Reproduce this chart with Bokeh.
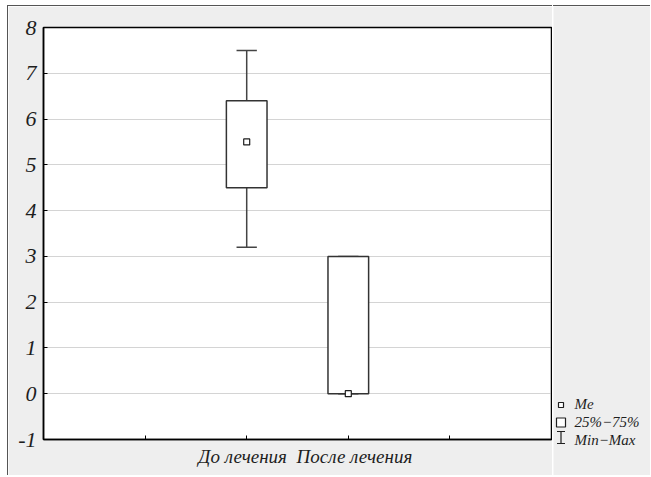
from bokeh.plotting import figure
from bokeh.models import Range1d, FixedTicker, LinearAxis
from bokeh.embed import file_html
from bokeh.resources import INLINE
from bokeh.core.properties import value

# ---- data ----
categories = ["До лечения", "После лечения"]
medians = [5.5, 0.0]
q1 = [4.5, 0.0]
q3 = [6.4, 3.0]
mins = [3.2, 0.0]
maxs = [7.5, 3.0]
y_ticks = [-1, 0, 1, 2, 3, 4, 5, 6, 7, 8]
x_ticks = [1, 2, 3, 4]
legend_labels = ["Me", "25%−75%", "Min−Max"]

FONT = "Liberation Serif"
BG = "#eeeeee"
INK = "#1e1e1e"
EDGE = "1px solid #555555"

xs = [i + 2 for i in range(len(categories))]
box_w = 0.4
cap_w = 0.2

H = 470
p = figure(width=545, height=H, x_range=Range1d(0, 5), y_range=Range1d(-1, 8),
           toolbar_location=None, output_backend="svg",
           min_border_left=35, min_border_right=2, min_border_top=21, min_border_bottom=H - 21 - 412,
           styles={"margin-top": "5px", "margin-left": "7px", "border-top": EDGE, "border-left": EDGE})
p.background_fill_color = "white"
p.border_fill_color = BG
p.outline_line_color = "black"
p.outline_line_width = 1.5

# whiskers
p.segment(x0=xs, y0=q3, x1=xs, y1=maxs, line_color="#444444", line_width=1.5)
p.segment(x0=xs, y0=q1, x1=xs, y1=mins, line_color="#444444", line_width=1.5)
p.segment(x0=[x - cap_w / 2 for x in xs], y0=maxs, x1=[x + cap_w / 2 for x in xs], y1=maxs,
          line_color="#444444", line_width=1.5)
p.segment(x0=[x - cap_w / 2 for x in xs], y0=mins, x1=[x + cap_w / 2 for x in xs], y1=mins,
          line_color="#444444", line_width=1.5)
# boxes
p.vbar(x=xs, width=box_w, top=q3, bottom=q1, fill_color="white", line_color="#333333", line_width=1.5)
# medians
p.scatter(x=xs, y=medians, marker="square", size=6, fill_color="white", line_color=INK, line_width=1.2)

# axes
xa = p.xaxis[0]
ya = p.yaxis[0]
xa.ticker = FixedTicker(ticks=x_ticks)
xa.major_label_overrides = {t: "" for t in x_ticks}
xa.major_label_text_font_size = "1px"
xa.major_label_standoff = 0
ya.ticker = FixedTicker(ticks=y_ticks)
ya.major_label_overrides = {-1: "-1"}
for ax in (xa, ya):
    ax.minor_tick_line_color = None
    ax.major_tick_in = 4
    ax.major_tick_out = 0
    ax.major_tick_line_color = "black"
    ax.axis_line_color = "black"
    ax.axis_line_width = 1.5
ya.major_label_text_font = FONT
ya.major_label_text_font_style = "italic"
ya.major_label_text_color = INK
ya.major_label_text_font_size = "22px"
ya.major_label_standoff = 7

# category label axis (labels only)
label_shift = [-0.04, 0.06]
label_pos = [round(x + d, 2) for x, d in zip(xs, label_shift)]
cat_axis = LinearAxis(ticker=FixedTicker(ticks=label_pos),
                      major_label_overrides={pos: c for pos, c in zip(label_pos, categories)},
                      axis_line_color=None, major_tick_line_color=None, minor_tick_line_color=None,
                      major_tick_in=0, major_tick_out=0,
                      major_label_standoff=6,
                      major_label_text_font=FONT, major_label_text_font_style="italic",
                      major_label_text_font_size="19px", major_label_text_color=INK)
p.add_layout(cat_axis, "below")

p.xgrid.visible = False
p.ygrid.grid_line_color = "#a8a8a8"
p.ygrid.grid_line_dash = "1 1"
p.ygrid.grid_line_width = 1

# ---- legend panel (pixel coordinates, y downward) ----
LW = 97
p2 = figure(width=LW, height=H, x_range=Range1d(0, LW), y_range=Range1d(H, 0),
            toolbar_location=None, output_backend="svg", min_border=0,
            x_axis_location=None, y_axis_location=None,
            styles={"position": "absolute", "left": "553px", "top": "5px", "border-top": EDGE})
p2.grid.visible = False
p2.outline_line_color = None
p2.background_fill_color = BG
p2.border_fill_color = BG

sym_x = 7.5
leg_y = [397, 415.5, 433]
p2.scatter(x=[sym_x], y=[398.5], marker="square", size=5, fill_color="white", line_color=INK, line_width=1.2)
p2.quad(left=[sym_x - 4.5], right=[sym_x + 4.5], top=[416 - 4.5], bottom=[416 + 4.5],
        fill_color="white", line_color=INK, line_width=1.2)
ib_top, ib_bot = 425, 437
p2.segment(x0=[sym_x, sym_x - 4, sym_x - 4], y0=[ib_top, ib_top, ib_bot],
           x1=[sym_x, sym_x + 4, sym_x + 4], y1=[ib_bot, ib_top, ib_bot],
           line_color=INK, line_width=1.2)
p2.text(x=[21] * 3, y=leg_y, text=legend_labels, text_align="left", text_baseline="middle",
        text_font=value(FONT), text_font_style="italic", text_font_size="15px", text_color=INK)

open("out.html", "w").write(file_html([p, p2], INLINE))
